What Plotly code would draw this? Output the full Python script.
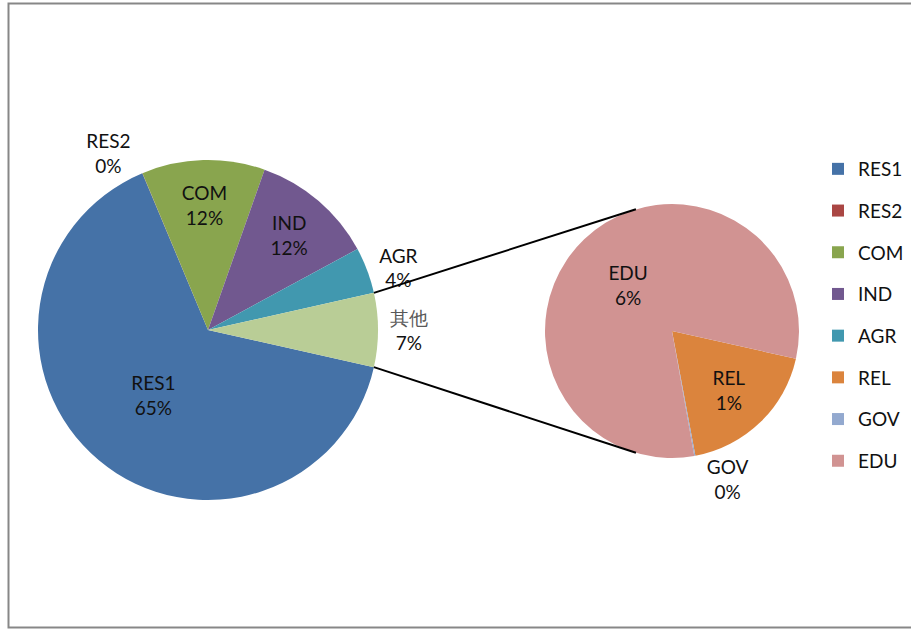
import math
import plotly.graph_objects as go

# ---------------- data ----------------
main_labels = ["RES1", "RES2", "COM", "IND", "AGR"]
main_values = [65.2, 0.02, 11.7, 11.7, 4.4]
sub_labels = ["REL", "GOV", "EDU"]
sub_values = [1.3, 0.01, 5.7]
other_label = "其他"

main_colors = ["#4572A7", "#AA4643", "#89A54E", "#71588F", "#4198AF"]
other_color = "#B9CD96"
sub_colors = ["#DB843D", "#93A9CF", "#D19392"]

W, H = 911, 630
FONT = "Lato, Carlito, Calibri, 'Open Sans', sans-serif"
FS = 19
TXT = "#111111"

other_value = sum(sub_values)
total = sum(main_values) + other_value


def pct(v):
    return f"{round(100 * v / total):.0f}%"


main_text = [f"{l}<br>{pct(v)}" for l, v in zip(main_labels, main_values)]
main_text.append(f"<span style='color:#595959'>{other_label}</span><br>{pct(other_value)}")
sub_text = [f"{l}<br>{pct(v)}" for l, v in zip(sub_labels, sub_values)]

# geometry (pixels)
c1x, c1y, r1 = 208, 330, 170
c2x, c2y, r2 = 672, 331, 127

half_other = 0.5 * 360 * other_value / total
rotation = 90 + half_other


def dom(cx, cy, r):
    return dict(x=[(cx - r) / W, (cx + r) / W], y=[(H - cy - r) / H, (H - cy + r) / H])


fig = go.Figure()

fig.add_trace(go.Pie(
    labels=main_labels + [other_label],
    values=main_values + [other_value],
    text=main_text,
    textinfo="text",
    textposition=["inside", "outside", "inside", "inside", "outside", "outside"],
    insidetextorientation="horizontal",
    marker=dict(colors=main_colors + [other_color], line=dict(width=0)),
    sort=False,
    direction="clockwise",
    rotation=rotation,
    domain=dom(c1x, c1y, r1),
    textfont=dict(family=FONT, size=FS, color=TXT),
    showlegend=False,
    hoverinfo="label+percent",
))

fig.add_trace(go.Pie(
    labels=sub_labels,
    values=sub_values,
    text=sub_text,
    textinfo="text",
    textposition=["inside", "outside", "inside"],
    insidetextorientation="horizontal",
    marker=dict(colors=sub_colors, line=dict(width=0)),
    sort=False,
    direction="clockwise",
    rotation=rotation,
    domain=dom(c2x, c2y, r2),
    textfont=dict(family=FONT, size=FS, color=TXT),
    showlegend=False,
    hoverinfo="label",
))

# legend entries
for i, (lab, col) in enumerate(zip(main_labels + sub_labels, main_colors + sub_colors)):
    fig.add_trace(go.Scatter(
        x=[None], y=[None], mode="markers", name=lab,
        marker=dict(symbol="square", size=10, color=col),
        legendgroup=f"g{i}", showlegend=True,
    ))

# connector lines
a = math.radians(half_other)
conn_ang = math.radians(106.5)
shapes = []
for s in (1, -1):
    x0 = c1x + r1 * math.cos(a)
    y0 = c1y - s * r1 * math.sin(a)
    x1 = c2x + r2 * math.cos(conn_ang)
    y1 = c2y - s * r2 * math.sin(conn_ang)
    shapes.append(dict(type="line", xref="paper", yref="paper",
                       x0=x0 / W, y0=1 - y0 / H, x1=x1 / W, y1=1 - y1 / H,
                       line=dict(color="#000000", width=2)))
# outer frame
shapes.append(dict(type="rect", xref="paper", yref="paper",
                   x0=8.5 / W, y0=1 - 627.5 / H, x1=920 / W, y1=1 - 3.5 / H,
                   line=dict(color="#878787", width=2), layer="below"))

fig.update_layout(
    width=W, height=H,
    margin=dict(l=0, r=0, t=0, b=0),
    paper_bgcolor="white", plot_bgcolor="white",
    font=dict(family=FONT, size=FS, color=TXT),
    xaxis=dict(visible=False), yaxis=dict(visible=False),
    shapes=shapes,
    showlegend=True,
    legend=dict(x=818 / W, xanchor="left", y=1 - 150 / H, yanchor="top",
                tracegroupgap=14, font=dict(family=FONT, size=FS, color=TXT),
                bgcolor="rgba(0,0,0,0)", itemsizing="constant"),
)

fig.write_html("out.html",
               config={"displayModeBar": False},
               post_script="document.body.style.margin='0';document.body.style.overflow='hidden';")
